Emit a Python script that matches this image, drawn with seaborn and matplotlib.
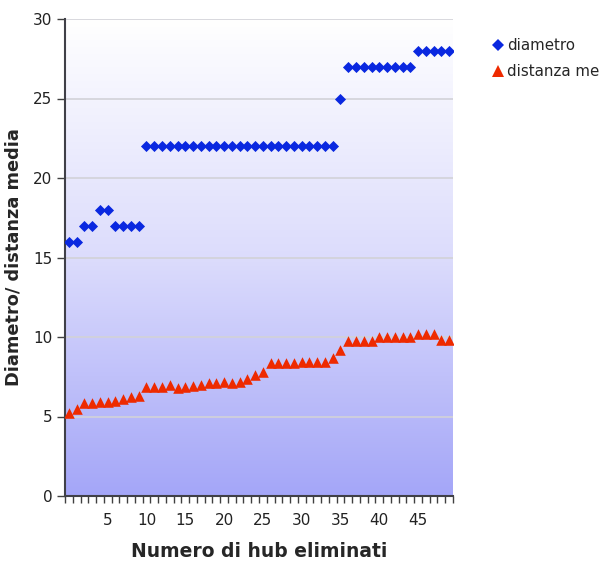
import numpy as np
import pandas as pd
import matplotlib
matplotlib.use("Agg")
import matplotlib.pyplot as plt
from matplotlib.colors import LinearSegmentedColormap
from matplotlib.lines import Line2D
import seaborn as sns

# ---- data ----
hub_eliminati = list(range(50))
diametro = [16, 16, 17, 17, 18, 18, 17, 17, 17, 17] + [22] * 25 + [25] + [27] * 9 + [28] * 5
distanza_media = [5.2, 5.5, 5.85, 5.85, 5.9, 5.9, 6.0, 6.1, 6.2, 6.3,
                  6.85, 6.85, 6.85, 6.95, 6.8, 6.85, 6.9, 7.0, 7.1, 7.1,
                  7.2, 7.1, 7.15, 7.35, 7.6, 7.8, 8.35, 8.35, 8.35, 8.35,
                  8.4, 8.4, 8.4, 8.4, 8.65, 9.2, 9.75, 9.75, 9.75, 9.75,
                  10.0, 10.0, 10.0, 10.0, 10.0, 10.2, 10.2, 10.2, 9.8, 9.8]
series_names = ["diametro", "distanza me"]
x_tick_labels = [5, 10, 15, 20, 25, 30, 35, 40, 45]
y_ticks = [0, 5, 10, 15, 20, 25, 30]

df = pd.DataFrame({
    "x": hub_eliminati * 2,
    "y": diametro + distanza_media,
    "serie": [series_names[0]] * 50 + [series_names[1]] * 50,
})

sns.set_style("white")
plt.rcParams["font.family"] = ["DejaVu Sans"]

fig = plt.figure(figsize=(6.06, 5.62), dpi=100)
ax = fig.add_axes([65 / 606, 66 / 562, 388 / 606, 477 / 562])

# gradient background
cmap = LinearSegmentedColormap.from_list("bg", ["#a4a6f8", "#dcdcfc", "#ffffff"])
grad = np.linspace(0, 1, 256).reshape(-1, 1)
ax.imshow(grad, extent=[-0.5, 49.5, 0, 30], origin="lower", aspect="auto",
          cmap=cmap, zorder=0)

for yv in y_ticks[1:]:
    ax.axhline(yv, color="#d2d2d8", lw=1.2, zorder=1)

palette = {"diametro": "#0a28e0", "distanza me": "#ee2a00"}
markers = {"diametro": "D", "distanza me": "^"}
sizes_ = {"diametro": 32, "distanza me": 58}
for name in series_names:
    sub = df[df["serie"] == name]
    sns.scatterplot(data=sub, x="x", y="y", color=palette[name], marker=markers[name],
                    s=sizes_[name], linewidth=0, ax=ax, zorder=3, legend=False)

ax.set_xlim(-0.5, 49.5)
ax.set_ylim(0, 30)
ax.set_xticks(x_tick_labels)
ax.set_xticklabels([str(v) for v in x_tick_labels], fontsize=11)
ax.set_xticks(np.arange(-0.5, 50, 1), minor=True)
ax.tick_params(axis="x", which="both", bottom=True)
ax.tick_params(axis="x", which="major", length=0, pad=12)
ax.tick_params(axis="x", which="minor", length=5, width=1, color="#404040", direction="out")
ax.set_yticks(y_ticks)
ax.set_yticklabels([str(v) for v in y_ticks], fontsize=11)
ax.tick_params(axis="y", which="major", left=True, length=6, width=1, color="#404040",
               direction="out", pad=3)
ax.tick_params(axis="both", labelcolor="#222222")

for side in ["top", "right"]:
    ax.spines[side].set_visible(False)
for side in ["left", "bottom"]:
    ax.spines[side].set_color("#404048")
    ax.spines[side].set_linewidth(1.5)

ax.set_xlabel("Numero di hub eliminati", fontsize=13.5, fontweight="bold", labelpad=10)
ax.set_ylabel("Diametro/ distanza media", fontsize=12.8, fontweight="bold", labelpad=8)

handles = [Line2D([0], [0], marker=markers[n], color="none", markerfacecolor=palette[n],
                  markeredgewidth=0, markersize=6.5 if n == "diametro" else 8.5, label=n)
           for n in series_names]
fig.legend(handles=handles, loc="upper left", bbox_to_anchor=(484 / 606, 1 - 32 / 562),
           frameon=False, fontsize=10.8, handletextpad=0.05, handlelength=1.1,
           labelspacing=0.75, borderaxespad=0)

fig.savefig("out.png", dpi=100)
